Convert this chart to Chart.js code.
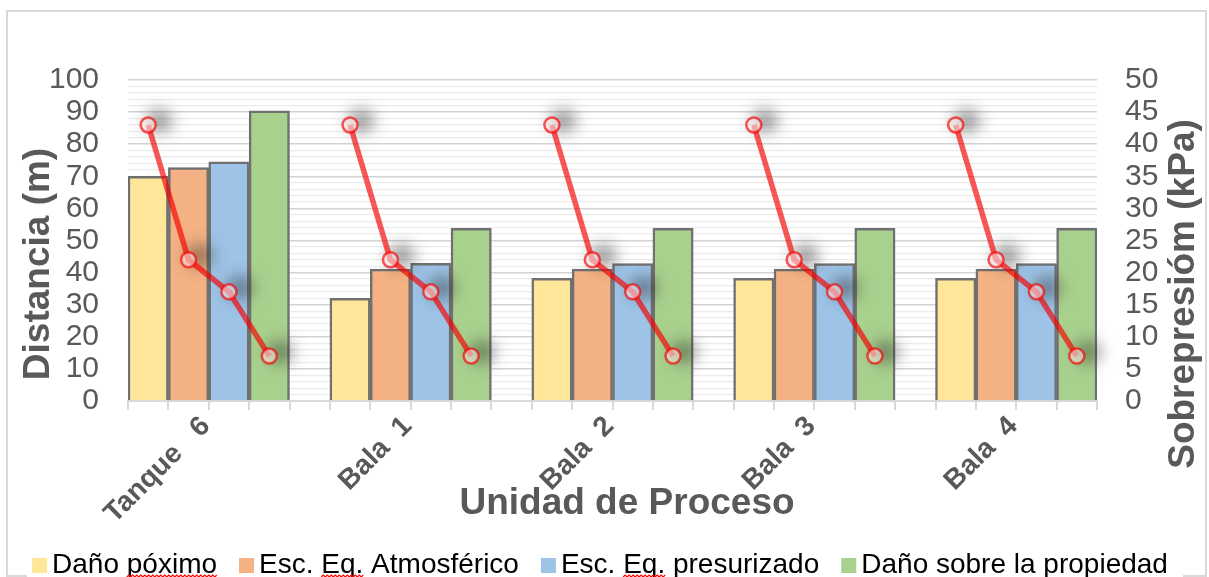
<!DOCTYPE html>
<html lang="es">
<head>
<meta charset="utf-8">
<title>Distancia y sobrepresión por unidad de proceso</title>
<script src="https://cdn.jsdelivr.net/npm/chart.js@4.4.1/dist/chart.umd.min.js"></script>
<style>
  html, body { margin: 0; padding: 0; background: #ffffff; }
  canvas { display: block; }
</style>
</head>
<body>
<canvas id="grafico" width="1209" height="577"></canvas>
<script>
// Unidades de proceso
const unidades = ['Tanque   6', 'Bala  1', 'Bala  2', 'Bala  3', 'Bala  4'];

// Escenarios evaluados en cada unidad (una barra por escenario)
const escenarios = ['Daño póximo', 'Esc. Eq. Atmosférico', 'Esc. Eq. presurizado', 'Daño sobre la propiedad'];
const coloresEscenario = ['#FFE699', '#F4B183', '#9DC3E6', '#A9D18E'];

// Distancia (m) por escenario, en el orden de "unidades"
const danoProximo    = [70.0, 32.0, 38.2, 38.2, 38.2];
const escAtmosferico = [72.7, 41.1, 41.1, 41.1, 41.1];
const escPresurizado = [74.5, 42.9, 42.8, 42.8, 42.8];
const danoPropiedad  = [90.4, 53.8, 53.8, 53.8, 53.8];

// Sobrepresión (kPa) por escenario, una fila por unidad
const sobrepresionTanque6 = [43, 22, 17, 7];
const sobrepresionBala1   = [43, 22, 17, 7];
const sobrepresionBala2   = [43, 22, 17, 7];
const sobrepresionBala3   = [43, 22, 17, 7];
const sobrepresionBala4   = [43, 22, 17, 7];

// Marcas de los ejes
const ticksDistancia    = [0, 10, 20, 30, 40, 50, 60, 70, 80, 90, 100];
const ticksSobrepresion = [0, 5, 10, 15, 20, 25, 30, 35, 40, 45, 50];

// Palabras subrayadas por el corrector en la leyenda
const marcasOrtografia = [
  { item: 0, palabra: 'póximo' },
  { item: 1, palabra: 'Eq.' },
  { item: 2, palabra: 'Eq.' }
];

// ---- construcción de las series sobre el eje de ranuras ----
// Cada unidad ocupa 4 ranuras (una por escenario) seguidas de una ranura vacía.
const RANURAS_POR_UNIDAD = escenarios.length + 1;
const totalRanuras = unidades.length * RANURAS_POR_UNIDAD - 1;
const ranura = (u, e) => u * RANURAS_POR_UNIDAD + e;
const centrosUnidad = unidades.map((_, u) => u * RANURAS_POR_UNIDAD + escenarios.length / 2);

const etiquetasRanura = [];
for (let i = 0; i < totalRanuras; i++) {
  const u = Math.floor(i / RANURAS_POR_UNIDAD), e = i % RANURAS_POR_UNIDAD;
  etiquetasRanura.push(e < escenarios.length ? unidades[u] + ' – ' + escenarios[e] : '');
}

const distancias = [danoProximo, escAtmosferico, escPresurizado, danoPropiedad];
const sobrepresiones = [sobrepresionTanque6, sobrepresionBala1, sobrepresionBala2, sobrepresionBala3, sobrepresionBala4];

function serieBarras(valores, e) {
  const d = new Array(totalRanuras).fill(null);
  valores.forEach((v, u) => { d[ranura(u, e)] = v; });
  return d;
}
const serieSobrepresion = new Array(totalRanuras).fill(null);
sobrepresiones.forEach((fila, u) => fila.forEach((v, e) => { serieSobrepresion[ranura(u, e)] = v; }));

const GRIS_TEXTO = '#595959';
const FUENTE = '"Liberation Sans", Arial, Helvetica, sans-serif';

// ---- complementos de dibujo ----
const marco = {
  id: 'marco',
  beforeDraw(chart) {
    const ctx = chart.ctx;
    ctx.save();
    ctx.fillStyle = '#ffffff';
    ctx.fillRect(0, 0, chart.width, chart.height);
    ctx.strokeStyle = '#d9d9d9';
    ctx.lineWidth = 2;
    ctx.strokeRect(7, 11, 1199, 565);
    ctx.restore();
  }
};

const sombraMarcadores = {
  id: 'sombraMarcadores',
  beforeDatasetDraw(chart, args) {
    if (args.meta.type !== 'line') return;
    const ctx = chart.ctx;
    ctx.save();
    ctx.filter = 'blur(8px)';
    ctx.fillStyle = 'rgba(40,40,40,0.5)';
    args.meta.data.forEach(pt => {
      if (pt.skip) return;
      ctx.beginPath();
      ctx.ellipse(pt.x + 11, pt.y - 4, 13, 11, 0, 0, Math.PI * 2);
      ctx.fill();
    });
    ctx.restore();
  }
};

const titulosEjes = {
  id: 'titulosEjes',
  afterDraw(chart) {
    const ctx = chart.ctx;
    ctx.save();
    ctx.fillStyle = GRIS_TEXTO;
    ctx.font = 'bold 37px ' + FUENTE;
    ctx.textAlign = 'center';
    ctx.textBaseline = 'middle';
    ctx.fillText('Unidad de Proceso', 627, 504);

    ctx.translate(39, 264);
    ctx.rotate(-Math.PI / 2);
    ctx.fillText('Distancia (m)', 0, 0);
    ctx.restore();

    ctx.save();
    ctx.fillStyle = GRIS_TEXTO;
    ctx.font = 'bold 37px ' + FUENTE;
    ctx.textAlign = 'center';
    ctx.textBaseline = 'middle';
    ctx.translate(1184, 294);
    ctx.rotate(-Math.PI / 2);
    ctx.fillText('Sobrepresióm (kPa)', 0, 0);
    ctx.restore();
  }
};

const leyendaInferior = {
  id: 'leyendaInferior',
  afterDraw(chart) {
    const ctx = chart.ctx;
    const items = chart.data.datasets.filter(d => d.type !== 'line');
    ctx.save();
    ctx.fillStyle = '#ffffff';
    ctx.fillRect(27, 545, 1156, 32);
    ctx.font = '28px ' + FUENTE;
    ctx.textBaseline = 'alphabetic';
    const caja = 15, sep = 5, entre = 22;
    const anchos = items.map(d => ctx.measureText(d.label).width);
    const total = anchos.reduce((a, w) => a + caja + sep + w, 0) + entre * (items.length - 1);
    let x = 600 - total / 2;
    const base = 573;
    const posiciones = [];
    items.forEach((d, i) => {
      ctx.fillStyle = d.backgroundColor;
      ctx.fillRect(x, base - 15, caja, caja);
      ctx.fillStyle = '#000000';
      const tx = x + caja + sep;
      ctx.fillText(d.label, tx, base);
      posiciones.push(tx);
      x = tx + anchos[i] + entre;
    });
    // subrayado ondulado del corrector
    ctx.strokeStyle = '#ff0000';
    ctx.lineWidth = 1.2;
    marcasOrtografia.forEach(m => {
      const texto = items[m.item].label;
      const k = texto.indexOf(m.palabra);
      const x0 = posiciones[m.item] + ctx.measureText(texto.slice(0, k)).width;
      const x1 = x0 + ctx.measureText(m.palabra).width;
      ctx.beginPath();
      let arriba = true;
      ctx.moveTo(x0, 577);
      for (let px = x0 + 2; px <= x1; px += 2) {
        ctx.lineTo(px, arriba ? 575 : 577);
        arriba = !arriba;
      }
      ctx.stroke();
    });
    ctx.restore();
  }
};

// ---- datos del gráfico ----
const conjuntos = [{
  type: 'line',
  label: 'Sobrepresión',
  data: serieSobrepresion,
  yAxisID: 'y1',
  xAxisID: 'x',
  order: 0,
  spanGaps: false,
  tension: 0,
  borderColor: 'rgba(245,0,0,0.66)',
  borderWidth: 5.5,
  pointRadius: 7.5,
  pointBorderWidth: 2.5,
  pointBorderColor: 'rgba(245,0,0,0.66)',
  pointBackgroundColor: 'rgba(255,235,235,0.55)'
}];
escenarios.forEach((nombre, e) => {
  conjuntos.push({
    type: 'bar',
    label: nombre,
    data: serieBarras(distancias[e], e),
    yAxisID: 'y',
    xAxisID: 'x',
    order: 1,
    grouped: false,
    barPercentage: 1,
    categoryPercentage: 1,
    backgroundColor: coloresEscenario[e],
    borderColor: '#707070',
    borderWidth: 2.5,
    borderSkipped: 'bottom'
  });
});

new Chart(document.getElementById('grafico'), {
  type: 'bar',
  data: { labels: etiquetasRanura, datasets: conjuntos },
  plugins: [marco, sombraMarcadores, titulosEjes, leyendaInferior],
  options: {
    responsive: false,
    animation: false,
    devicePixelRatio: 1,
    layout: { padding: { top: 80, bottom: 0, left: 0, right: 0 } },
    plugins: { legend: { display: false }, tooltip: { enabled: false } },
    scales: {
      x: {
        type: 'category',
        position: 'bottom',
        offset: true,
        grid: { offset: true, drawOnChartArea: false, drawTicks: true, tickLength: 9, color: '#d9d9d9', lineWidth: 2 },
        border: { display: true, color: '#d9d9d9', width: 2 },
        ticks: { display: false },
        afterFit(s) { s.height = 10; }
      },
      xUnidades: {
        type: 'linear',
        position: 'bottom',
        offset: false,
        min: 0,
        max: totalRanuras,
        grid: { display: false, offset: false },
        border: { display: false },
        afterBuildTicks(s) { s.ticks = centrosUnidad.map(v => ({ value: v })); },
        ticks: {
          autoSkip: false,
          maxRotation: 45,
          minRotation: 45,
          padding: -9,
          labelOffset: -3,
          color: GRIS_TEXTO,
          font: { family: FUENTE, size: 28, weight: 'bold' },
          callback: (v, i) => unidades[i]
        },
        afterFit(s) { s.height = 166; }
      },
      y: {
        position: 'left',
        min: 0,
        max: 100,
        grid: {
          drawTicks: false,
          color: c => (c.tick && c.tick.value % 10 === 0) ? '#d3d3d3' : '#ebebeb',
          lineWidth: c => (c.tick && c.tick.value % 10 === 0) ? 1.6 : 1.2
        },
        border: { display: false },
        ticks: {
          stepSize: 2,
          autoSkip: false,
          padding: 29,
          color: GRIS_TEXTO,
          font: { family: FUENTE, size: 30 },
          callback: v => ticksDistancia.includes(v) ? String(v) : ''
        },
        afterFit(s) { s.width = 128; }
      },
      y1: {
        position: 'right',
        min: 0,
        max: 50,
        grid: { drawOnChartArea: false, drawTicks: false },
        border: { display: false },
        ticks: {
          stepSize: 5,
          autoSkip: false,
          padding: 28,
          color: GRIS_TEXTO,
          font: { family: FUENTE, size: 30 },
          callback: v => ticksSobrepresion.includes(v) ? String(v) : ''
        },
        afterFit(s) { s.width = 112; }
      }
    }
  }
});
</script>
</body>
</html>
